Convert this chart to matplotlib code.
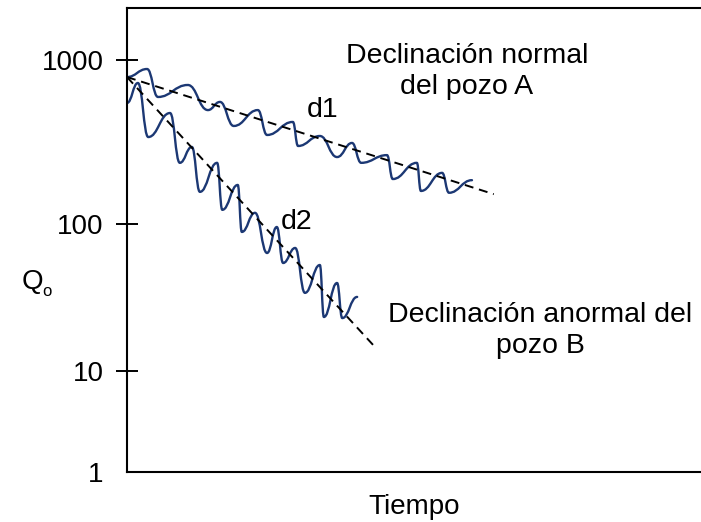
import numpy as np
import matplotlib
matplotlib.use("Agg")
import matplotlib.pyplot as plt
from matplotlib.path import Path
from matplotlib.patches import PathPatch

plt.rcParams['font.family'] = ['Liberation Sans', 'DejaVu Sans']

# pozo A (declinacion normal): maximos y minimos
t_a = [0, 3.5, 5.4, 10.6, 14.1, 16.2, 18.6, 22.8, 24.4, 28.9, 29.8, 33.6,
       36.6, 39.2, 40.8, 45.3, 46.3, 50.5, 51.2, 54.9, 56.1, 60.1]
q_a = [787, 881, 595, 704, 495, 555, 396, 495, 349, 419, 299, 344,
       256, 312, 236, 263, 188, 236, 159, 205, 155, 185]

# pozo B (declinacion anormal)
t_b = [0, 1.9, 3.7, 7.5, 9.2, 11.3, 12.7, 15.7, 16.6, 19.3, 20.0, 22.3,
       24.4, 26.1, 27.2, 29.3, 31.0, 33.6, 34.3, 36.6, 37.5, 40.1]
q_b = [547, 724, 339, 475, 236, 295, 157, 236, 122, 173, 88.3, 117,
       63.5, 95.4, 54.3, 68.7, 34.0, 52.6, 23.3, 39.7, 22.9, 31.9]

# tendencias (d1, d2)
t_d1 = [0, 63.9]
q_d1 = [787, 152]
t_d2 = [0, 23.5, 42.9]
q_d2 = [787, 100, 15]

yticks = [1, 10, 100, 1000]
ytick_labels = ['1', '10', '100', '1000']

# escala log "dibujada a mano": las decadas no tienen el mismo largo
dec_log = [-1, 0, 1, 2, 3, 4]
dec_pos = [-101, 0, 101, 248, 412, 576]


def fwd(y):
    y = np.clip(np.asarray(y, dtype=float), 1e-3, None)
    return np.interp(np.log10(y), dec_log, dec_pos)


def inv(v):
    return 10 ** np.interp(v, dec_pos, dec_log)


def wave(t, q, k=0.45):
    # curva suave por los extremos: tangente horizontal en cada pico/valle
    verts = [(t[0], q[0])]
    codes = [Path.MOVETO]
    for i in range(1, len(t)):
        dx = t[i] - t[i - 1]
        verts += [(t[i - 1] + k * dx, q[i - 1]), (t[i] - k * dx, q[i]), (t[i], q[i])]
        codes += [Path.CURVE4] * 3
    return Path(verts, codes)


fig = plt.figure(figsize=(7.01, 5.22), dpi=100)
ax = fig.add_axes([127 / 701, 50 / 522, 1 - 127 / 701, 464 / 522])
ax.set_yscale('function', functions=(fwd, inv))

navy = '#1c3874'
for t, q in [(t_a, q_a), (t_b, q_b)]:
    ax.add_patch(PathPatch(wave(t, q), fill=False, edgecolor=navy, lw=1.7,
                           capstyle='round', joinstyle='round'))
ax.plot(t_d1, q_d1, color='black', lw=1.4, dashes=(4.6, 3.0))
ax.plot(t_d2, q_d2, color='black', lw=1.4, dashes=(4.6, 3.0))

ax.set_xlim(0, 100)
ax.set_ylim(1, 2075)
ax.set_xticks([])
ax.set_yticks(yticks)
ax.set_yticklabels(ytick_labels)
ax.yaxis.set_minor_locator(matplotlib.ticker.NullLocator())
ax.tick_params(axis='y', direction='inout', length=16, width=1.4,
               labelsize=20, pad=9)
ax.yaxis.get_major_ticks()[0].tick1line.set_visible(False)

for s in ['left', 'top', 'bottom']:
    ax.spines[s].set_linewidth(1.5)
ax.spines['right'].set_visible(False)

ax.set_xlabel('Tiempo', fontsize=20, labelpad=16)

ax.text(59.2, 845, 'Declinación normal\ndel pozo A', fontsize=20.5,
        ha='center', va='center', linespacing=1.25)
ax.text(34, 495, 'd1', fontsize=20.5, ha='center', va='center')
ax.text(29.6, 103, 'd2', fontsize=20.5, ha='center', va='center')
ax.text(72, 19, 'Declinación anormal del\npozo B', fontsize=20.5,
        ha='center', va='center', linespacing=1.25)

fig.text(32 / 701, 1 - 282 / 522, 'Q', fontsize=20, ha='center', va='center')
fig.text(47 / 701, 1 - 292 / 522, 'o', fontsize=12, ha='center', va='center')

fig.savefig('out.png', dpi=100)
